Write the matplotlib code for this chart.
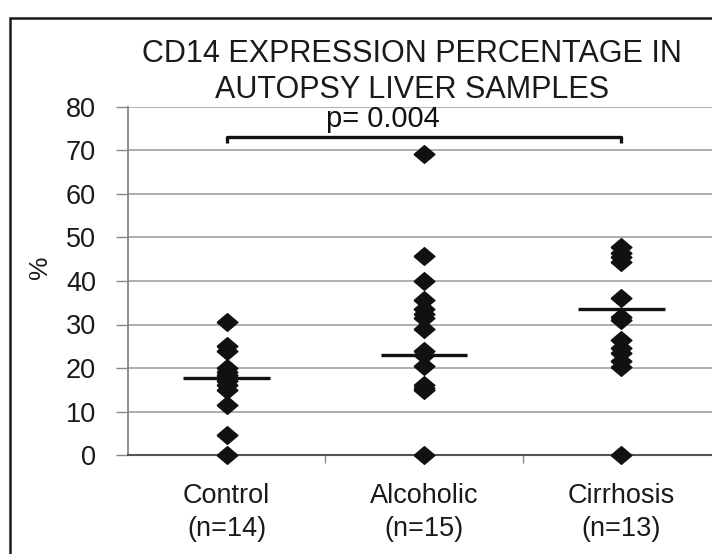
import matplotlib
matplotlib.use("Agg")
import matplotlib.pyplot as plt
from matplotlib.patches import Rectangle
import numpy as np

plt.rcParams['font.family'] = ['Liberation Sans', 'DejaVu Sans']

categories = ["Control\n(n=14)", "Alcoholic\n(n=15)", "Cirrhosis\n(n=13)"]
control = [30.6, 25.0, 24.0, 20.0, 19.0, 18.5, 18.0, 17.5, 17.0, 16.0, 15.0, 11.5, 4.6, 0.0]
alcoholic = [69.2, 45.7, 40.0, 35.6, 33.5, 32.5, 31.5, 29.0, 24.0, 23.0, 20.5, 16.0, 15.5, 15.0, 0.0]
cirrhosis = [47.9, 46.4, 45.5, 44.4, 36.1, 31.8, 31.0, 26.4, 24.5, 23.4, 21.5, 20.3, 0.0]
center_lines = [17.7, 23.0, 33.5]
yticks = [0, 10, 20, 30, 40, 50, 60, 70, 80]
title = "CD14 EXPRESSION PERCENTAGE IN\nAUTOPSY LIVER SAMPLES"
p_text = "p= 0.004"
bracket_y = 73.2
bracket_drop = 1.5

W, H = 712, 554
fig = plt.figure(figsize=(W / 100, H / 100), dpi=100)
fig.patch.set_facecolor("white")

# outer frame (cut off at right/bottom)
fig.patches.append(Rectangle((10 / W, -0.1), 2, 1 - 18 / H + 0.1, transform=fig.transFigure,
                             fill=False, edgecolor="#1a1a1a", linewidth=1.8, zorder=0))

ax = fig.add_axes([128 / W, 99 / H, (720 - 128) / W, 348 / H])
ax.set_xlim(0.5, 3.5)
ax.set_ylim(0, 80)

diamond = [(-1, 0), (0, 0.85), (1, 0), (0, -0.85), (-1, 0)]
for i, vals in enumerate([control, alcoholic, cirrhosis], start=1):
    ax.plot([i] * len(vals), vals, linestyle="none", marker=diamond, markersize=15,
            color="#111111", clip_on=False, zorder=4)
    ax.plot([i - 0.22, i + 0.22], [center_lines[i - 1]] * 2, color="#111111",
            linewidth=2.4, solid_capstyle="butt", zorder=5)

# bracket
ax.plot([1, 1, 3, 3], [bracket_y - bracket_drop, bracket_y, bracket_y, bracket_y - bracket_drop],
        color="#111111", linewidth=2.4, solid_capstyle="butt", zorder=5)
ax.text(1.79, 77.2, p_text, ha="center", va="center", fontsize=21, color="#111111")

ax.set_yticks(yticks)
ax.set_yticklabels([str(v) for v in yticks], fontsize=19.5, color="#1a1a1a")
ax.yaxis.grid(True, color="#a8a8a8", linewidth=1.3)
ax.set_axisbelow(True)
ax.set_xticks([1, 2, 3])
ax.set_xticklabels(categories, fontsize=19.5, color="#1a1a1a", linespacing=1.35)
ax.set_xticks([1.5, 2.5], minor=True)
ax.tick_params(axis="x", which="major", length=0, pad=20)
ax.tick_params(axis="x", which="minor", length=6, color="#888888", width=1)
ax.tick_params(axis="y", length=9, color="#888888", width=1, pad=14)

for s in ["top", "right"]:
    ax.spines[s].set_visible(False)
ax.spines["left"].set_color("#888888")
ax.spines["left"].set_linewidth(1.3)
ax.spines["bottom"].set_color("#555555")
ax.spines["bottom"].set_linewidth(1.5)

ax.set_ylabel("%", fontsize=19, color="#1a1a1a")
ax.yaxis.set_label_coords(-0.128, 0.54)

fig.text(412 / W, 1 - 72 / H, title, ha="center", va="center", fontsize=22,
         color="#1a1a1a", linespacing=1.3)

fig.savefig("out.png", dpi=100)
